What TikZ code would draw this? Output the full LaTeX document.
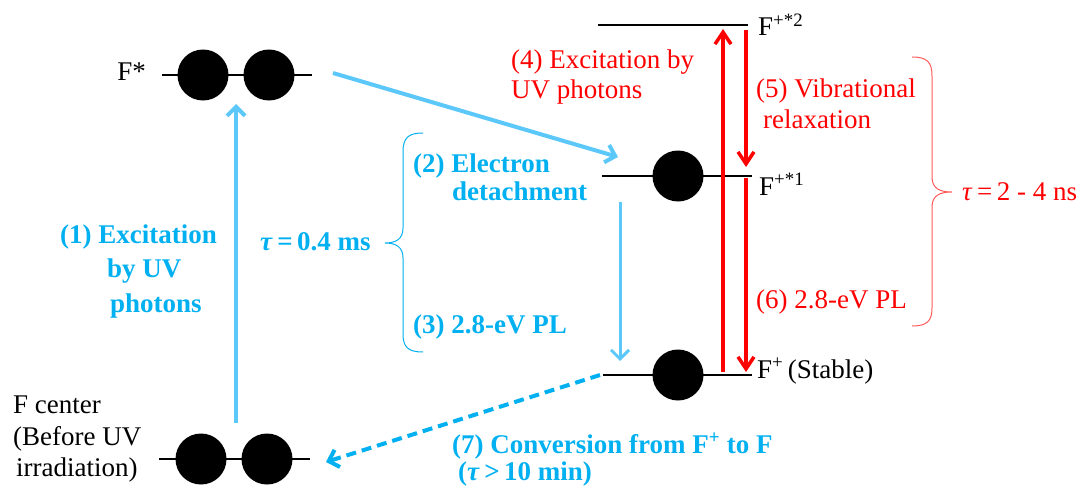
\documentclass[tikz,border=0pt]{standalone}
\usepackage{fontspec}
\setmainfont{Liberation Serif}
\usetikzlibrary{arrows.meta}
\definecolor{tblue}{HTML}{00B0F0}
\definecolor{ablue}{HTML}{5CC8FA}
\definecolor{bred}{HTML}{FF5A5A}
\begin{document}
\begin{tikzpicture}[x=1pt,y=-1pt,
  every node/.style={inner sep=0pt, font=\fontsize{27}{31}\selectfont},
  lvl/.style={line width=2pt, black},
  dot/.style={circle, fill=black, minimum size=51pt, inner sep=0pt},
  barrow/.style={ablue, line width=4pt, -{Straight Barb[length=9pt,width=18pt]}},
  bdash/.style={tblue, line width=4pt, dash pattern=on 10pt off 6pt, -{Straight Barb[length=9pt,width=18pt]}},
  rarrow/.style={red, line width=3.5pt, -{Straight Barb[length=12pt,width=16pt]}},
  btext/.style={text=tblue, font=\fontsize{27}{31}\selectfont\bfseries, anchor=base west},
  rtext/.style={text=red, anchor=base west},
  ktext/.style={text=black, anchor=base west},
  brace/.style={line width=1pt}
]
\useasboundingbox (0,0) rectangle (1091,487);

% ---- levels ----
\coordinate (Fs-l) at (162,75);  \coordinate (Fs-r) at (312,75);
\coordinate (F-l) at (159,459);  \coordinate (F-r) at (310,459);
\coordinate (P2-l) at (598,25);  \coordinate (P2-r) at (748,25);
\coordinate (P1-l) at (602,176); \coordinate (P1-r) at (752,176);
\coordinate (P0-l) at (603,375); \coordinate (P0-r) at (752,375);
\draw[lvl] (Fs-l) -- (Fs-r);
\draw[lvl] (F-l) -- (F-r);
\draw[lvl] (P2-l) -- (P2-r);
\draw[lvl] (P1-l) -- (P1-r);
\draw[lvl] (P0-l) -- (P0-r);

\node[dot] (Fs1) at (203,75) {};
\node[dot] (Fs2) at (269,75) {};
\node[dot] (F1) at (201,459) {};
\node[dot] (F2) at (267,459) {};
\node[dot] (P1dot) at (678,176) {};
\node[dot] (P0dot) at (678,375) {};

% ---- black labels ----
\node[ktext, anchor=base east] (FsLab) at (146,81) {F*};
\node[ktext] (Fc1) at (13,413) {F center};
\node[ktext] (Fc2) at (13,445) {(Before UV};
\node[ktext] (Fc3) at (16,476) {irradiation)};
\node[ktext] (P2Lab) at (758,36) {F\textsuperscript{+*2}};
\node[ktext] (P1Lab) at (759,195) {F\textsuperscript{+*1}};
\node[ktext] (P0Lab) at (757,378) {F\textsuperscript{+}\,(Stable)};

% ---- blue arrows ----
\coordinate (a1s) at (236,423); \coordinate (a1e) at (236,104);
\coordinate (a2s) at (333,73);  \coordinate (a2e) at (618,157);
\coordinate (a3s) at (620,202); \coordinate (a3e) at (620,361);
\coordinate (a7s) at (600,375); \coordinate (a7e) at (326,462);
\draw[barrow] (a1s) -- (a1e);
\draw[barrow] (a2s) -- (a2e);
\draw[barrow, line width=3pt] (a3s) -- (a3e);
\draw[bdash] (a7s) -- (a7e);

% ---- red arrows ----
\coordinate (r4s) at (723,372); \coordinate (r4e) at (723,29);
\coordinate (r5s) at (746,30);  \coordinate (r5e) at (746,167);
\coordinate (r6s) at (746,178); \coordinate (r6e) at (746,372);
\draw[rarrow] (r4s) -- (r4e);
\draw[rarrow] (r5s) -- (r5e);
\draw[rarrow] (r6s) -- (r6e);

% ---- blue texts ----
\node[btext] (t1a) at (60,243) {(1) Excitation};
\node[btext] (t1b) at (107,277) {by UV};
\node[btext] (t1c) at (110,312) {photons};
\node[btext] (tau1) at (260,250) {\textit{τ}\,=\,0.4 ms};
\node[btext] (t2a) at (413,172) {(2) Electron};
\node[btext] (t2b) at (452,200) {detachment};
\node[btext] (t3) at (413,333) {(3) 2.8-eV PL};
\node[btext] (t7a) at (452,453) {(7) Conversion from F\textsuperscript{+} to F};
\node[btext] (t7b) at (458,480) {(\textit{τ}\,>\,10 min)};

% ---- red texts ----
\node[rtext] (t4a) at (511,68) {(4) Excitation by};
\node[rtext] (t4b) at (511,98) {UV photons};
\node[rtext] (t5a) at (756,97) {(5) Vibrational};
\node[rtext] (t5b) at (763,128) {relaxation};
\node[rtext] (t6) at (756,308) {(6) 2.8-eV PL};
\node[rtext] (tau2) at (962,200) {\textit{τ}\,=\,2 - 4 ns};

% ---- braces ----
\draw[brace, tblue] (423,133) .. controls (408,133) and (403,138) .. (403,152)
  -- (403,228) .. controls (403,239) and (396,243) .. (385,243)
  .. controls (396,243) and (403,247) .. (403,258)
  -- (403,334) .. controls (403,347) and (408,352) .. (423,352);
\draw[brace, bred] (912,57) .. controls (927,57) and (932,62) .. (932,76)
  -- (932,177) .. controls (932,188) and (939,192) .. (952,192)
  .. controls (939,192) and (932,196) .. (932,207)
  -- (932,308) .. controls (932,321) and (927,326) .. (912,326);
\end{tikzpicture}
\end{document}
